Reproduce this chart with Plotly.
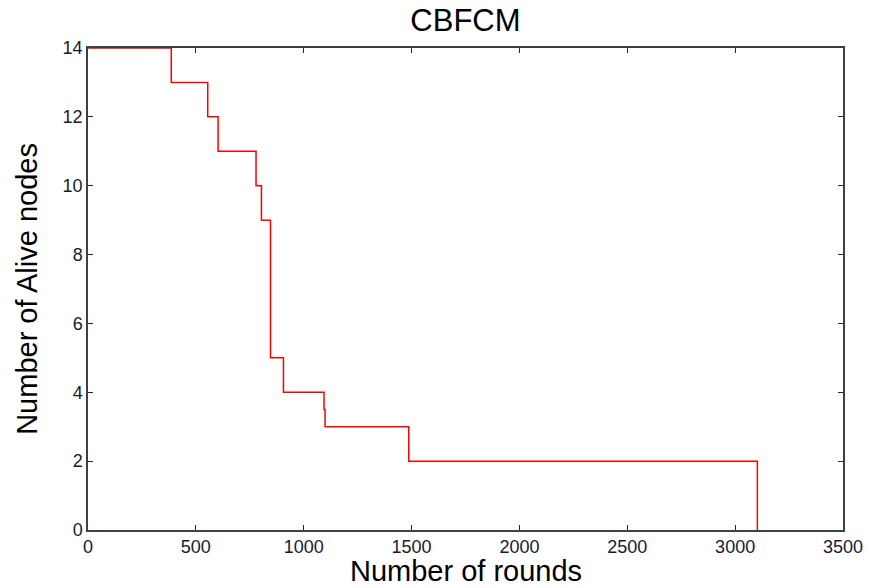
import plotly.graph_objects as go

rounds = [0, 386, 555, 603, 779, 804, 846, 906, 1094, 1099, 1487, 3103]
alive = [14, 13, 12, 11, 10, 9, 5, 4, 3.5, 3, 2, 0]
x_ticks = [0, 500, 1000, 1500, 2000, 2500, 3000, 3500]
y_ticks = [0, 2, 4, 6, 8, 10, 12, 14]

FONT = "Liberation Sans, Arial"

fig = go.Figure()
fig.add_trace(go.Scatter(
    x=rounds, y=alive, mode="lines", line_shape="hv",
    line=dict(color="#ff0000", width=1.5), showlegend=False,
))

axis_common = dict(
    showgrid=False, zeroline=False, showline=True, linecolor="#404040",
    linewidth=1.5, mirror="ticks", ticks="inside", ticklen=5,
    tickcolor="#262626", tickwidth=1.2, layer="below traces", automargin=False,
    tickfont=dict(family=FONT, size=18, color="#1a1a2e"),
)

fig.update_layout(
    width=869, height=588,
    margin=dict(l=88, r=26, t=48, b=58),
    paper_bgcolor="white", plot_bgcolor="white",
    title=dict(text="CBFCM", x=0.5356, xanchor="center", y=0.965, yanchor="middle",
               font=dict(family=FONT, size=31, color="black")),
    xaxis=dict(range=[0, 3500], tickvals=x_ticks, **axis_common),
    yaxis=dict(range=[0, 14], tickvals=y_ticks, **axis_common),
    annotations=[
        dict(text="Number of rounds", xref="paper", yref="paper", x=0.5, y=-0.1203,
             xanchor="center", yanchor="bottom", showarrow=False, borderpad=0,
             font=dict(family=FONT, size=29, color="black")),
        dict(text="Number of Alive nodes", xref="paper", yref="paper", x=-0.081, y=0.5,
             xanchor="center", yanchor="middle", textangle=-90, showarrow=False,
             font=dict(family=FONT, size=29, color="black")),
    ],
)

fig.write_html("out.html")
